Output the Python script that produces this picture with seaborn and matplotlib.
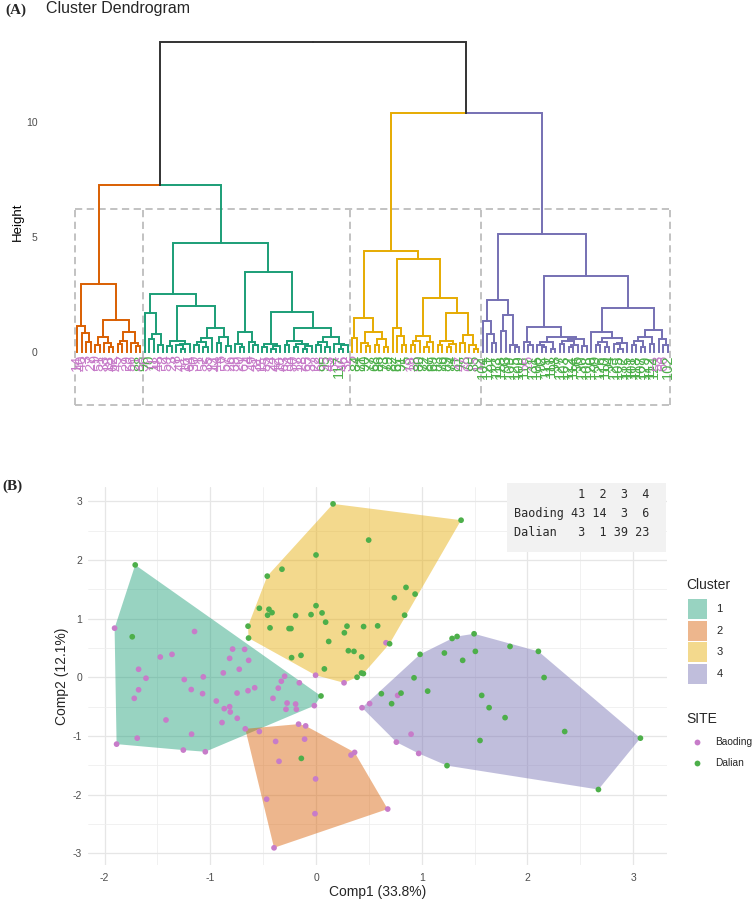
import numpy as np
import pandas as pd
import matplotlib
matplotlib.use("Agg")
import matplotlib.pyplot as plt
import seaborn as sns
from matplotlib.patches import Rectangle
from matplotlib.lines import Line2D
from matplotlib.ticker import MultipleLocator

# ---------------------------------------------------------------- data
# PCA scores per k-means cluster (Comp1, Comp2) and site of each sample
c1_x = [-1.905, -1.149, -1.473, -1.362, -1.678, -1.608, -1.678, -1.719, -1.246, -1.066,
        -1.180, -1.073, -0.877, -0.817, -0.789, -0.675, -0.637, -0.726, -0.747, -0.643,
        -0.580, -0.297, -0.328, -0.357, -0.158, -0.407, -0.274, -0.284, -0.193, -0.186,
        -0.016, -0.943, -0.868, -0.817, -0.811, -0.745, -0.889, -1.419, -1.691, -1.886,
        -1.177, -1.255, -1.047, -1.710, -1.738, 0.047]
c1_y = [0.837, 0.780, 0.345, 0.390, 0.136, -0.017, -0.214, -0.360, -0.039, 0.006,
        -0.210, -0.280, 0.074, 0.322, 0.480, 0.475, 0.288, 0.136, -0.270, -0.230,
        -0.180, 0.017, -0.068, -0.186, -0.095, -0.360, -0.440, -0.547, -0.457, -0.547,
        -0.485, -0.406, -0.536, -0.502, -0.593, -0.700, -0.773, -0.729, -1.039, -1.141,
        -0.971, -1.242, -1.271, 1.915, 0.690, -0.320]
c1_site = ["Baoding"] * 43 + ["Dalian"] * 3

c2_x = [-0.669, -0.536, -0.165, -0.098, -0.382, -0.108, -0.350, 0.331, 0.365, -0.004,
        -0.467, -0.010, -0.397, 0.678, -0.139]
c2_y = [-0.880, -0.926, -0.800, -0.830, -1.095, -1.056, -1.434, -1.327, -1.282, -1.734,
        -2.080, -2.327, -2.909, -2.248, -1.384]
c2_site = ["Baoding"] * 14 + ["Dalian"] * 1

c3_x = [-0.004, 0.265, 0.662,
        0.498, 0.000, -0.322, -0.461, -0.536, -0.445, -0.416, -0.458, -0.193, -0.047,
        0.000, 0.057, 0.091, -0.643, -0.638, -0.435, -0.255, -0.237, 0.268, 0.293,
        0.450, 0.583, 0.120, 0.741, 0.851, 0.937, 0.838, 0.696, -0.231, -0.142,
        0.306, 0.359, 0.432, 0.079, 0.430, 0.448, 0.388, 1.372, 0.161]
c3_y = [0.034, -0.095, 0.588,
        2.339, 2.085, 1.842, 1.724, 1.176, 1.159, 1.102, 1.058, 1.051, 1.068,
        1.220, 1.097, 0.939, 0.871, 0.668, 0.842, 0.830, 0.830, 0.758, 0.871,
        0.864, 0.876, 0.610, 1.356, 1.532, 1.418, 1.058, 0.571, 0.334, 0.373,
        0.452, 0.441, 0.346, 0.142, 0.072, 0.062, 0.000, 2.678, 2.956]
c3_site = ["Baoding"] * 3 + ["Dalian"] * 39

c4_x = [0.435, 0.507, 0.772, 0.760, 0.899, 0.971,
        1.287, 1.334, 1.495, 1.835, 2.103, 2.157, 0.984, 1.214, 1.507, 1.387,
        0.927, 1.056, 0.804, 0.618, 1.567, 0.715, 1.637, 1.788, 2.352, 3.068,
        1.551, 1.239, 2.671]
c4_y = [-0.520, -0.450, -0.310, -1.107, -0.971, -1.300,
        0.661, 0.695, 0.741, 0.525, 0.441, -0.005, 0.390, 0.413, 0.441, 0.288,
        -0.010, -0.237, -0.271, -0.281, -0.310, -0.451, -0.519, -0.689, -0.926, -1.039,
        -1.079, -1.508, -1.915]
c4_site = ["Baoding"] * 6 + ["Dalian"] * 23

cluster_names = ["1", "2", "3", "4"]
cluster_colors = ["#1B9E77", "#D95F02", "#E6AB02", "#7570B3"]
site_names = ["Baoding", "Dalian"]
site_colors = ["#C77CC9", "#4DAF4A"]

# Dendrogram: sample labels in leaf order, and merge height between neighbouring leaves
leaf_labels = [14, 40, 3, 27, 9, 51, 33, 18, 62, 45, 7, 29, 56, 21, 88,
               36, 70, 11, 48, 2, 59, 23, 8, 41, 16, 64, 30, 1, 52, 35, 13, 44, 6, 57, 26,
               39, 20, 61, 4, 49, 31, 15, 55, 24, 42, 10, 63, 34, 50, 17, 28, 65, 37, 22, 58,
               95, 43, 54, 117, 46, 32,
               5, 84, 71, 90, 77, 68, 86, 73, 79, 82, 67, 91, 75, 19, 38, 80, 72, 87, 69, 83,
               76, 89, 74, 81, 47, 78, 60, 85, 12,
               104, 121, 97, 113, 128, 93, 109, 125, 100, 116, 25, 131, 106, 92, 119, 111, 98,
               127, 103, 122, 114, 96, 130, 108, 120, 99, 126, 110, 94, 123, 105, 132, 115,
               101, 118, 107, 129, 112, 124, 53, 66, 102]
n_baoding = 66          # samples 1..66 are Baoding, the rest Dalian
gap_heights = [
    1.14, 0.81, 0.45, 2.97, 0.30, 0.64, 0.40, 0.20, 1.40, 0.35, 0.50, 0.88, 0.40, 0.25,
    7.27,
    1.68, 0.55, 0.80, 0.30, 2.54, 0.25, 0.50, 0.30, 0.15, 0.35, 2.00,
    0.30, 0.45, 0.20, 0.60, 1.03, 0.40, 0.65, 0.25, 4.74,
    0.35, 0.20, 0.88, 0.45, 0.30, 3.49, 0.20, 0.35, 0.15, 0.25, 1.73,
    0.30, 0.50, 0.20, 0.35, 0.15, 0.25, 1.03, 0.30, 0.45, 0.20, 0.65, 0.35, 0.15, 0.30,
    13.50,
    0.60, 1.49, 0.40, 0.25, 0.87, 0.30, 0.55, 0.20, 4.39, 1.04, 0.70, 0.30, 4.04,
    0.30, 0.50, 0.70, 0.20, 0.45, 2.36, 0.30, 0.50, 0.20, 0.35, 1.69, 0.40, 0.75, 0.30, 0.15,
    10.39,
    1.36, 0.78, 0.40, 2.27, 0.90, 1.60, 0.30, 0.20, 5.12, 0.45, 0.30, 1.10,
    0.30, 0.20, 0.45, 0.15, 0.65, 0.35, 0.50, 0.20, 0.30, 0.55, 0.25, 3.32,
    0.87, 0.30, 0.45, 0.20, 0.60, 0.35, 0.15, 0.40, 1.90,
    0.30, 0.50, 0.20, 0.65, 0.35, 0.96, 0.55, 0.30]
k_groups = 4
dend_colors = ["#D95F02", "#1B9E77", "#E6AB02", "#7570B3"]
trunk_color = "#333333"
rect_top = 6.2
rect_bottom = -2.3

# ---------------------------------------------------------------- style
sns.set_style("white")
plt.rcParams["font.family"] = ["Liberation Sans", "DejaVu Sans"]
plt.rcParams["axes.unicode_minus"] = False

W, H = 754, 901
fig = plt.figure(figsize=(W / 100, H / 100), dpi=100)


def px_axes(x0, y0, x1, y1):
    return fig.add_axes([x0 / W, 1 - y1 / H, (x1 - x0) / W, (y1 - y0) / H])


def fx(x):
    return x / W


def fy(y):
    return 1 - y / H


# ---------------------------------------------------------------- panel A
axA = px_axes(46, 22, 698, 422)
gaps = np.array(gap_heights)
n_leaves = len(gaps) + 1
bounds = np.sort(np.argsort(gaps)[-(k_groups - 1):])
leaf_group = np.searchsorted(bounds, np.arange(n_leaves), side="left")

LW = 1.4


def build(a, b):
    if a == b:
        return float(a), 0.0, dend_colors[leaf_group[a]]
    k = a + int(np.argmax(gaps[a:b]))
    h = gaps[k]
    left = build(a, k)
    right = build(k + 1, b)
    x = (left[0] + right[0]) / 2
    for xc, hc, cc in (left, right):
        axA.plot([xc, xc, x], [hc, h, h], color=cc, lw=LW,
                 solid_capstyle="projecting", solid_joinstyle="miter", zorder=3)
    col = left[2] if (left[2] == right[2] and left[2] != trunk_color) else trunk_color
    return x, h, col


build(0, n_leaves - 1)

for i, lab in enumerate(leaf_labels):
    col = site_colors[0] if lab <= n_baoding else site_colors[1]
    axA.text(i, -0.12, str(lab), rotation=90, ha="center", va="top",
             fontsize=10.5, color=col, zorder=2)

# dashed boxes around the k groups (shared edges drawn once)
edges = [-0.5] + [b + 0.5 for b in bounds] + [n_leaves - 0.5]
dash_kw = dict(colors="#BDBDBD", linewidths=1.3, linestyles=(0, (4, 2.5)), zorder=1)
axA.vlines(edges, rect_bottom, rect_top, **dash_kw)
axA.hlines([rect_bottom, rect_top], edges[0], edges[-1], **dash_kw)

axA.set_xlim(-6.93, 137.7)
axA.set_ylim(-3.04, 14.35)
axA.set_xticks([])
axA.set_yticks([0, 5, 10])
axA.tick_params(axis="y", length=3, width=0.9, color="#333333", labelsize=7.5,
                labelcolor="#4D4D4D", pad=3)
for s in axA.spines.values():
    s.set_visible(False)
axA.set_ylabel("Height", fontsize=9.5, color="black")
axA.yaxis.set_label_coords(-0.034, 0.5)

fig.text(fx(5), fy(14), "(A)", fontsize=11, fontweight="bold",
         family=["Liberation Serif", "DejaVu Serif"], ha="left", va="baseline")
fig.text(fx(45.7), fy(12.7), "Cluster Dendrogram", fontsize=11.5,
         ha="left", va="baseline")

# ---------------------------------------------------------------- panel B
frames = []
for name, xs, ys, ss in zip(cluster_names, [c1_x, c2_x, c3_x, c4_x],
                            [c1_y, c2_y, c3_y, c4_y], [c1_site, c2_site, c3_site, c4_site]):
    frames.append(pd.DataFrame({"Comp1": xs, "Comp2": ys, "SITE": ss, "Cluster": name}))
df = pd.concat(frames, ignore_index=True)

axB = px_axes(88.3, 486.7, 666.7, 865)
axB.set_axisbelow(True)


def convex_hull(points):
    pts = sorted(set(map(tuple, points)))

    def cross(o, a, b):
        return (a[0] - o[0]) * (b[1] - o[1]) - (a[1] - o[1]) * (b[0] - o[0])
    lower, upper = [], []
    for p in pts:
        while len(lower) >= 2 and cross(lower[-2], lower[-1], p) <= 0:
            lower.pop()
        lower.append(p)
    for p in reversed(pts):
        while len(upper) >= 2 and cross(upper[-2], upper[-1], p) <= 0:
            upper.pop()
        upper.append(p)
    return np.array(lower[:-1] + upper[:-1])


fill_alpha = 0.45
for name, col in zip(cluster_names, cluster_colors):
    sub = df[df["Cluster"] == name]
    hull = convex_hull(sub[["Comp1", "Comp2"]].values)
    axB.fill(hull[:, 0], hull[:, 1], color=col, alpha=fill_alpha, lw=0, zorder=1)

sns.scatterplot(data=df, x="Comp1", y="Comp2", hue="SITE", hue_order=site_names,
                palette=site_colors, s=17, linewidth=0, legend=False, ax=axB, zorder=3)

axB.set_xticks([-2, -1, 0, 1, 2, 3])
axB.set_yticks([-3, -2, -1, 0, 1, 2, 3])
axB.xaxis.set_minor_locator(MultipleLocator(0.5))
axB.yaxis.set_minor_locator(MultipleLocator(0.5))
axB.grid(which="major", color="#E6E6E6", lw=0.9)
axB.grid(which="minor", color="#EEEEEE", lw=0.55)
axB.tick_params(which="both", length=0)
axB.tick_params(axis="both", labelsize=7.5, labelcolor="#4D4D4D")
axB.tick_params(axis="x", pad=6)
axB.tick_params(axis="y", pad=4.5)
for s in axB.spines.values():
    s.set_visible(False)
axB.set_xlabel("Comp1 (33.8%)", fontsize=10)
axB.set_ylabel("Comp2 (12.1%)", fontsize=10)
axB.xaxis.set_label_coords(0.5, -0.052)
axB.yaxis.set_label_coords(-0.033, 0.5)

fig.text(fx(2), fy(490), "(B)", fontsize=11, fontweight="bold",
         family=["Liberation Serif", "DejaVu Serif"], ha="left", va="baseline")

# contingency table of site x cluster
tab = pd.crosstab(df["SITE"], df["Cluster"]).reindex(index=site_names, columns=cluster_names)
rows = [" " * 7 + "".join(f"{c:>3}" for c in cluster_names)]
for site in site_names:
    rows.append(f"{site:<7}" + "".join(f"{int(v):>3}" for v in tab.loc[site].values))
fig.patches.append(Rectangle((fx(506.7), fy(551.7)), fx(666) - fx(506.7), fy(483.3) - fy(551.7),
                             transform=fig.transFigure, facecolor="#F2F2F2",
                             edgecolor="none", zorder=5))
for r, yy in zip(rows, [494.3, 513.3, 532.7]):
    fig.text(fx(514), fy(yy), r, family=["DejaVu Sans Mono"], fontsize=8.5,
             color="#2B2B2B", ha="left", va="center", zorder=6)

# legends
fig.text(fx(686.7), fy(585), "Cluster", fontsize=10, ha="left", va="center")
for i, (name, col) in enumerate(zip(cluster_names, cluster_colors)):
    yc = 609 + 21.67 * i
    fig.patches.append(Rectangle((fx(687.7), fy(yc + 10)), fx(707.3) - fx(687.7),
                                 fy(yc - 10) - fy(yc + 10), transform=fig.transFigure,
                                 facecolor=col, alpha=fill_alpha, edgecolor="none"))
    fig.text(fx(716.5), fy(yc), name, fontsize=8, ha="left", va="center")

fig.text(fx(686.7), fy(719), "SITE", fontsize=10, ha="left", va="center")
for i, (name, col) in enumerate(zip(site_names, site_colors)):
    yc = 742.3 + 21 * i
    fig.lines.append(Line2D([fx(697.3)], [fy(yc)], transform=fig.transFigure, marker="o",
                            markersize=4.2, markerfacecolor=col, markeredgewidth=0,
                            linestyle="none"))
    fig.text(fx(715.2), fy(yc), name, fontsize=7.3, ha="left", va="center")

fig.savefig("out.png", dpi=100)
